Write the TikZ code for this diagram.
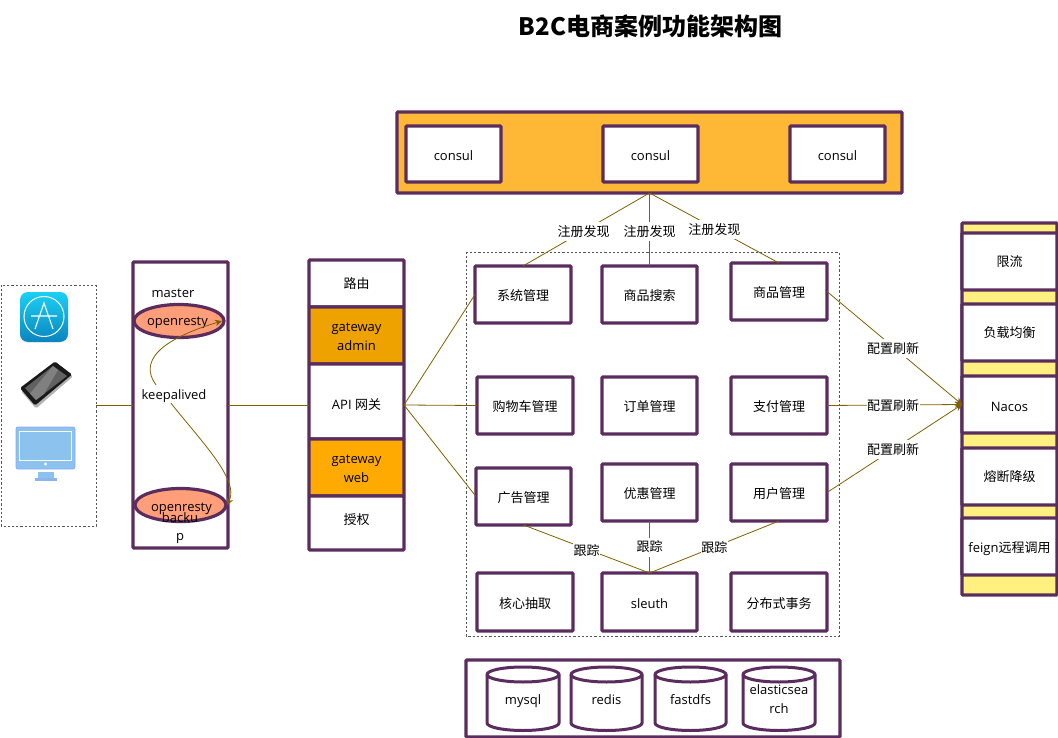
\documentclass[tikz,border=0pt]{standalone}
\usepackage{fontspec}
\setmainfont{Open Sans}
\newfontfamily\cjk{Noto Sans CJK SC}
\usetikzlibrary{arrows.meta,shapes.geometric}
\definecolor{plum}{HTML}{5A2D5E}
\definecolor{wire}{HTML}{7F6000}
\definecolor{consulbg}{HTML}{FFB835}
\definecolor{gwa}{HTML}{EEA200}
\definecolor{gwb}{HTML}{FFAA00}
\definecolor{salmon}{HTML}{FF9E78}
\definecolor{paleyellow}{HTML}{FFF07F}
\definecolor{dashgrey}{HTML}{555555}
\definecolor{apptop}{HTML}{1BD0F5}
\definecolor{appbot}{HTML}{0A85BE}
\definecolor{screenblue}{HTML}{8CC2EE}
\definecolor{monedge}{HTML}{8FA8FF}
\definecolor{standblue}{HTML}{8CB4F0}
\tikzset{
  textdy/.store in=\tdy,
  pbox/.style={draw=plum,line width=3.2pt,fill=white,rounded corners=1pt,inner sep=0pt,outer sep=0pt},
  boxtext/.style={inner sep=0pt,align=center,font=\fontsize{13}{19}\selectfont},
  frame/.style={draw=dashgrey,line width=.8pt,dash pattern=on 2.2pt off 2pt},
  wireline/.style={draw=wire,line width=.8pt},
  wirearrow/.style={wireline,-{Stealth[length=7pt,width=6.5pt]}},
  tag/.style={fill=white,inner xsep=0.5pt,inner ysep=0pt,minimum height=19pt,font=\fontsize{13}{16}\selectfont},
  plain/.style={inner sep=0pt,font=\fontsize{13}{16}\selectfont},
  oval/.style={ellipse,draw=plum,line width=3.2pt,fill=salmon,inner sep=0pt,outer sep=0pt},
  dbline/.style={draw=plum,line width=3pt,fill=white},
}
\newcommand{\bx}[7][]{%
  \begingroup\tikzset{textdy=1.5,#1}%
  \pgfmathsetmacro\cxx{(#3+#5)/2}\pgfmathsetmacro\cyy{(#4+#6)/2}%
  \pgfmathsetmacro\bww{#5-#3}\pgfmathsetmacro\bhh{#6-#4}\pgfmathsetmacro\tyy{\cyy+\tdy}%
  \node[pbox,minimum width=\bww pt,minimum height=\bhh pt,#1] (#2) at (\cxx,\cyy) {};
  \node[boxtext] (#2t) at (\cxx,\tyy) {#7};\endgroup}
\newcommand{\dbcyl}[5]{%
  \pgfmathsetmacro\xa{#2}\pgfmathsetmacro\xb{#3}\pgfmathsetmacro\xc{(#2+#3)/2}%
  \pgfmathsetmacro\ka{\xc-0.5523*(\xc-\xa)}\pgfmathsetmacro\kb{\xc+0.5523*(\xc-\xa)}%
  \draw[dbline] (\xa,674.5) .. controls (\xa,670.4) and (\ka,667) .. (\xc,667)
     .. controls (\kb,667) and (\xb,670.4) .. (\xb,674.5) -- (\xb,723)
     .. controls (\xb,727.1) and (\kb,730.5) .. (\xc,730.5)
     .. controls (\ka,730.5) and (\xa,727.1) .. (\xa,723) -- cycle;
  \draw[plum,line width=3pt] (\xa,674.5) .. controls (\xa,678.6) and (\ka,682) .. (\xc,682)
     .. controls (\kb,682) and (\xb,678.6) .. (\xb,674.5);
  \node[boxtext] (#1) at (\xc,#5) {#4};}
\begin{document}
\begin{tikzpicture}[x=1pt,y=-1pt]
\useasboundingbox (0,0) rectangle (1058,738);
% title
\node[inner sep=0pt,font=\cjk\bfseries\fontsize{24}{28}\selectfont] (title) at (650.5,26) {B2C电商案例功能架构图};
% frames
\draw[frame] (1,285) rectangle (96,526);
\draw[frame] (466,252) rectangle (839,636);
\coordinate (clientport) at (96,405);
\coordinate (hub) at (404,405);
% icons
\fill[white!94!brown] (20,292) rectangle (71,343);
\shade[top color=apptop,bottom color=appbot,rounded corners=8pt] (20,292) rectangle (68,342);
\draw[white,line width=1pt] (44,316.5) circle[radius=20pt];
\draw[white,line width=1.1pt] (35,329) -- (44,303) -- (53,329) (31,316) -- (57,316);
\fill[black!30,rounded corners=1.5pt] (57,363.5) -- (73,376.5) -- (36,408.5) -- (21,391) -- cycle;
\fill[black!90,rounded corners=1.5pt] (55,361.5) -- (72,374.5) -- (35,405.5) -- (20,388) -- cycle;
\fill[black!62] (53,366) -- (67,376) -- (36,400) -- (25,388) -- cycle;
\fill[black!50] (53,366) -- (58,370) -- (44,394) -- (36,400) -- (30,393.5) -- cycle;
\fill[screenblue,draw=monedge,line width=.8pt,rounded corners=2pt] (16,427) rectangle (75,469);
\draw[white,line width=.9pt] (19.5,431.5) rectangle (71.5,460.5);
\fill[white] (45.5,464) circle[radius=1.6pt];
\fill[screenblue] (37.5,472) rectangle (53.5,478);
\fill[standblue] (35,478) rectangle (57,481);
% keepalived column
\bx{kabox}{133}{262}{228}{548}{}
\node[oval,minimum width=90pt,minimum height=33pt] (master) at (179,321) {};
\node[oval,minimum width=91pt,minimum height=33pt] (backup) at (180.5,505) {};
\node[plain] (mlabel) at (173,293.5) {master};
\node[plain] (olabel) at (177.5,323) {openresty};
\node[plain] (blabel) at (181.5,509) {openresty};
\node[plain] (bklabel) at (180,518) {backu};
\node[plain] (bplabel) at (180,539) {p};
\node[plain] (kalabel) at (174,396.5) {keepalived};
\draw[wirearrow] (kalabel.north) ++(-18,-5) .. controls (145,370) and (142,345) .. (222,321);
\draw[wirearrow] (kalabel.south) ++(-3,0) .. controls (200,440) and (240,480) .. (227,505);
% gateway column
\bx[textdy=0]{route}{309}{260}{404}{307}{\cjk 路由}
\bx[fill=gwa]{gwadmin}{309}{307}{404}{364}{gateway\\admin}
\bx[textdy=3]{api}{309}{364}{404}{439}{API {\cjk 网关}}
\bx[fill=gwb]{gwweb}{309}{439}{404}{496}{gateway\\web}
\bx[textdy=-3.5]{auth}{309}{496}{404}{550}{\cjk 授权}
% consul
\bx[fill=consulbg]{consulbar}{397}{112}{902}{193}{}
\bx{consula}{406}{126}{501}{182}{consul}
\bx{consulb}{603}{126}{698}{182}{consul}
\bx{consulc}{790}{126}{885}{182}{consul}
% services
\bx{sys}{475}{266}{571}{323}{\cjk 系统管理}
\bx{search}{602}{266}{697}{323}{\cjk 商品搜索}
\bx{goods}{731}{263}{827}{320}{\cjk 商品管理}
\bx{cart}{477}{377}{573}{434}{\cjk 购物车管理}
\bx{order}{602}{377}{697}{434}{\cjk 订单管理}
\bx{pay}{731}{377}{827}{434}{\cjk 支付管理}
\bx{ad}{476}{468}{571}{525}{\cjk 广告管理}
\bx{coupon}{602}{464}{697}{521}{\cjk 优惠管理}
\bx{user}{731}{464}{827}{521}{\cjk 用户管理}
\bx{core}{477}{573}{573}{631}{\cjk 核心抽取}
\bx{sleuth}{602}{573}{697}{631}{sleuth}
\bx{dist}{731}{573}{827}{631}{\cjk 分布式事务}
% databases
\bx{dbbox}{466}{660}{840}{737}{}
\dbcyl{mysql}{487}{559}{mysql}{701}
\dbcyl{redis}{571}{642}{redis}{699.5}
\dbcyl{fastdfs}{655}{726}{fastdfs}{699.5}
\dbcyl{es}{743}{815}{elasticsea\\rch}{699.5}
% right column
\bx[fill=paleyellow]{rightcol}{962}{223}{1057}{595}{}
\bx[textdy=0]{limit}{962}{233}{1057}{290}{\cjk 限流}
\bx[textdy=0]{lb}{962}{304}{1057}{361}{\cjk 负载均衡}
\bx[textdy=2]{nacos}{962}{376}{1057}{433}{Nacos}
\bx[textdy=0]{fuse}{962}{448}{1057}{505}{\cjk 熔断降级}
\bx[textdy=2]{feign}{962}{518}{1057}{575}{feign{\cjk 远程调用}}
% connectors
\draw[wireline] (clientport) -- (kabox.west |- clientport);
\draw[wireline] (kabox.east |- hub) -- (api.west |- hub);
\draw[wireline] (hub) -- (sys.west);
\draw[wireline] (hub) -- (cart.west);
\draw[wireline] (hub) -- (ad.west);
\draw[wireline] (consulbar.south) -- node[tag,pos=.52,yshift=-1pt] (r1) {\cjk 注册发现} (sys.north);
\draw[wireline] (consulbar.south) -- node[tag,pos=.52,yshift=-1pt] (r2) {\cjk 注册发现} (search.north);
\draw[wireline] (consulbar.south) -- node[tag,pos=.5,yshift=-2pt] (r3) {\cjk 注册发现} (goods.north);
\draw[wireline] (coupon.south) -- node[tag,pos=.5] (t2) {\cjk 跟踪} (sleuth.north);
\draw[wireline] (ad.south) -- node[tag,pos=.5,yshift=-2pt] (t1) {\cjk 跟踪} (sleuth.north);
\draw[wireline] (user.south) -- node[tag,pos=.5,yshift=-1pt] (t3) {\cjk 跟踪} (sleuth.north);
\draw[wirearrow] (goods.east) -- node[tag,pos=.49,yshift=-2pt] (c1) {\cjk 配置刷新} (nacos.west);
\draw[wirearrow] (pay.east) -- node[tag,pos=.49,yshift=-1pt] (c2) {\cjk 配置刷新} (nacos.west);
\draw[wirearrow] (user.east) -- node[tag,pos=.49] (c3) {\cjk 配置刷新} (nacos.west);
\end{tikzpicture}
\end{document}
